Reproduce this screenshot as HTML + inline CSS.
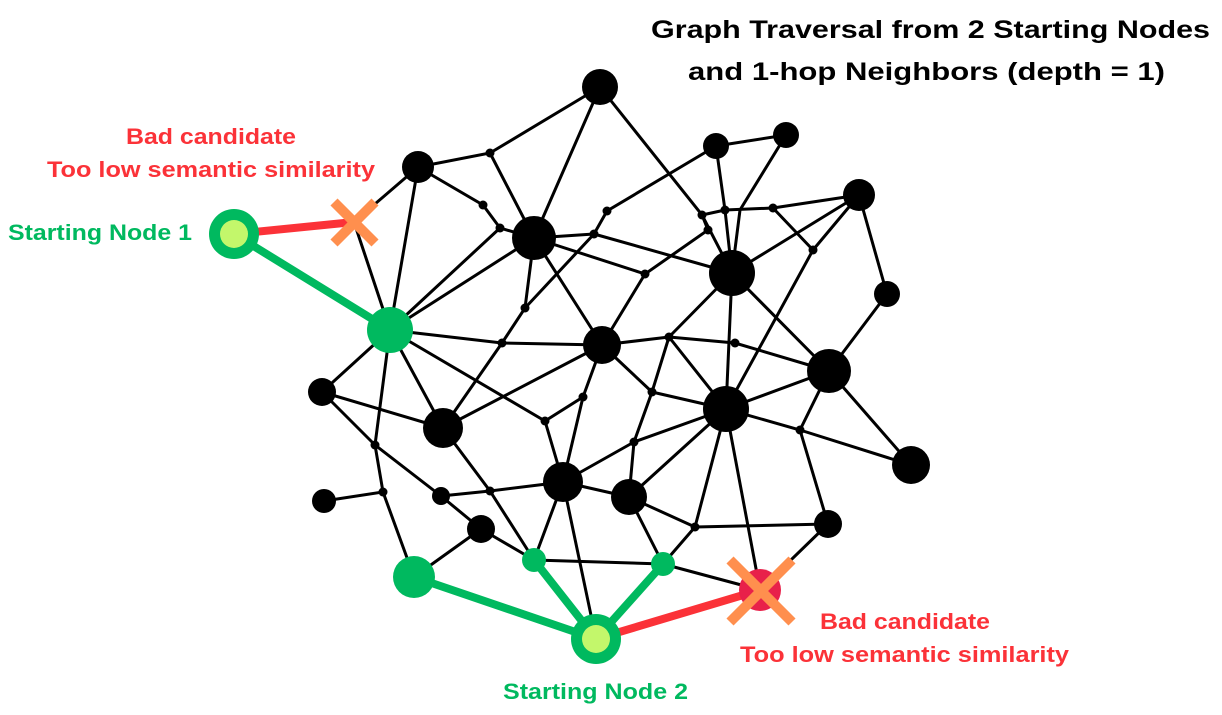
<!DOCTYPE html>
<html><head><meta charset="utf-8"><style>html,body{margin:0;padding:0;background:#fff}svg{display:block}</style></head>
<body>
<svg width="1222" height="715" viewBox="0 0 1222 715" xmlns="http://www.w3.org/2000/svg">
<g stroke="#000" stroke-width="3" fill="none" stroke-linecap="round">
<!-- top -->
<polyline points="600,87 490,153 418,167"/>
<line x1="490" y1="153" x2="534" y2="238"/>
<line x1="600" y1="87" x2="534" y2="238"/>
<polyline points="600,87 702,215 732,273"/>
<line x1="418" y1="167" x2="354" y2="222"/>
<line x1="354" y1="222" x2="390" y2="330"/>
<line x1="418" y1="167" x2="390" y2="330"/>
<polyline points="418,167 483,205 500,228 534,238"/>
<line x1="500" y1="228" x2="390" y2="330"/>
<line x1="534" y1="238" x2="390" y2="330"/>
<polyline points="716,146 607,211 594,234 525,308 502,343 443,428"/>
<line x1="534" y1="238" x2="594" y2="234"/>
<line x1="594" y1="234" x2="732" y2="273"/>
<line x1="534" y1="238" x2="645" y2="274"/>
<line x1="534" y1="238" x2="525" y2="308"/>
<line x1="534" y1="238" x2="602" y2="345"/>
<polyline points="390,330 502,343 602,345"/>
<!-- right top -->
<line x1="716" y1="146" x2="786" y2="135"/>
<polyline points="716,146 725,210 732,273"/>
<polyline points="786,135 740,210 732,273"/>
<polyline points="702,215 725,210 773,208 859,195"/>
<line x1="732" y1="273" x2="859" y2="195"/>
<polyline points="859,195 813,250 726,409"/>
<line x1="773" y1="208" x2="813" y2="250"/>
<line x1="732" y1="273" x2="829" y2="371"/>
<line x1="859" y1="195" x2="887" y2="294"/>
<line x1="887" y1="294" x2="829" y2="371"/>
<polyline points="702,215 708,230 645,274 602,345"/>
<line x1="732" y1="273" x2="726" y2="409"/>
<line x1="732" y1="273" x2="669" y2="337"/>
<polyline points="602,345 669,337 735,343 829,371"/>
<line x1="669" y1="337" x2="726" y2="409"/>
<polyline points="669,337 652,392 634,442 629,497"/>
<line x1="602" y1="345" x2="652" y2="392"/>
<line x1="652" y1="392" x2="726" y2="409"/>
<line x1="726" y1="409" x2="829" y2="371"/>
<polyline points="726,409 800,430 911,465"/>
<line x1="829" y1="371" x2="800" y2="430"/>
<line x1="829" y1="371" x2="911" y2="465"/>
<line x1="726" y1="409" x2="634" y2="442"/>
<line x1="634" y1="442" x2="563" y2="482"/>
<line x1="726" y1="409" x2="629" y2="497"/>
<line x1="726" y1="409" x2="695" y2="527"/>
<line x1="726" y1="409" x2="760" y2="590"/>
<line x1="800" y1="430" x2="828" y2="524"/>
<!-- left / bottom -->
<line x1="390" y1="330" x2="322" y2="392"/>
<line x1="390" y1="330" x2="443" y2="428"/>
<line x1="390" y1="330" x2="375" y2="445"/>
<polyline points="390,330 545,421 583,397 602,345"/>
<line x1="443" y1="428" x2="602" y2="345"/>
<line x1="322" y1="392" x2="443" y2="428"/>
<line x1="322" y1="392" x2="375" y2="445"/>
<polyline points="375,445 383,492 414,577"/>
<line x1="383" y1="492" x2="324" y2="501"/>
<polyline points="375,445 441,496 481,529"/>
<polyline points="441,496 490,491 563,482"/>
<polyline points="443,428 490,491 534,560"/>
<line x1="545" y1="421" x2="563" y2="482"/>
<line x1="583" y1="397" x2="563" y2="482"/>
<line x1="563" y1="482" x2="629" y2="497"/>
<line x1="563" y1="482" x2="534" y2="560"/>
<line x1="563" y1="482" x2="596" y2="639"/>
<line x1="629" y1="497" x2="695" y2="527"/>
<line x1="629" y1="497" x2="663" y2="564"/>
<line x1="695" y1="527" x2="663" y2="564"/>
<line x1="695" y1="527" x2="828" y2="524"/>
<line x1="828" y1="524" x2="760" y2="590"/>
<line x1="663" y1="564" x2="760" y2="590"/>
<line x1="534" y1="560" x2="663" y2="564"/>
<line x1="481" y1="529" x2="414" y2="577"/>
<line x1="481" y1="529" x2="534" y2="560"/>
</g>
<!-- thick colored edges -->
<g stroke-width="8" stroke-linecap="round">
<line x1="234" y1="234" x2="354" y2="222" stroke="#fb3238"/>
<line x1="596" y1="639" x2="760" y2="590" stroke="#fb3238"/>
<line x1="234" y1="234" x2="390" y2="330" stroke="#00b95f"/>
<line x1="596" y1="639" x2="414" y2="577" stroke="#00b95f"/>
<line x1="596" y1="639" x2="534" y2="560" stroke="#00b95f"/>
<line x1="596" y1="639" x2="663" y2="564" stroke="#00b95f"/>
</g>
<!-- black nodes -->
<g fill="#000">
<circle cx="600" cy="87" r="18"/><circle cx="418" cy="167" r="16"/><circle cx="534" cy="238" r="22"/>
<circle cx="602" cy="345" r="19"/><circle cx="732" cy="273" r="23"/><circle cx="726" cy="409" r="23"/>
<circle cx="829" cy="371" r="22"/><circle cx="859" cy="195" r="16"/><circle cx="716" cy="146" r="13"/>
<circle cx="786" cy="135" r="13"/><circle cx="887" cy="294" r="13"/><circle cx="911" cy="465" r="19"/>
<circle cx="443" cy="428" r="20"/><circle cx="322" cy="392" r="14"/><circle cx="324" cy="501" r="12"/>
<circle cx="563" cy="482" r="20"/><circle cx="629" cy="497" r="18"/><circle cx="481" cy="529" r="14"/>
<circle cx="828" cy="524" r="14"/><circle cx="441" cy="496" r="9"/>
<g>
<circle cx="490" cy="153" r="4.5"/><circle cx="483" cy="205" r="4.5"/><circle cx="500" cy="228" r="4.5"/>
<circle cx="607" cy="211" r="4.5"/><circle cx="594" cy="234" r="4.5"/><circle cx="525" cy="308" r="4.5"/>
<circle cx="502" cy="343" r="4.5"/><circle cx="702" cy="215" r="4.5"/><circle cx="708" cy="230" r="4.5"/>
<circle cx="725" cy="210" r="4.5"/><circle cx="773" cy="208" r="4.5"/><circle cx="813" cy="250" r="4.5"/>
<circle cx="645" cy="274" r="4.5"/><circle cx="669" cy="337" r="4.5"/><circle cx="735" cy="343" r="4.5"/>
<circle cx="652" cy="392" r="4.5"/><circle cx="800" cy="430" r="4.5"/><circle cx="634" cy="442" r="4.5"/>
<circle cx="375" cy="445" r="4.5"/><circle cx="383" cy="492" r="4.5"/><circle cx="490" cy="491" r="4.5"/>
<circle cx="545" cy="421" r="4.5"/><circle cx="583" cy="397" r="4.5"/><circle cx="695" cy="527" r="4.5"/>
</g>
</g>
<!-- green nodes -->
<g fill="#00b95f">
<circle cx="390" cy="330" r="23"/><circle cx="414" cy="577" r="21"/>
<circle cx="534" cy="560" r="12"/><circle cx="663" cy="564" r="12"/>
<circle cx="234" cy="234" r="25"/><circle cx="596" cy="639" r="25"/>
</g>
<circle cx="234" cy="234" r="14" fill="#c3f76b"/>
<circle cx="596" cy="639" r="14" fill="#c3f76b"/>
<!-- red node -->
<circle cx="760" cy="590" r="21" fill="#e8214a"/>
<!-- X marks -->
<g stroke="#ff8f4e" stroke-width="10" stroke-linecap="butt">
<line x1="730" y1="560" x2="792" y2="622"/><line x1="792" y1="560" x2="730" y2="622"/>
<line x1="334" y1="202" x2="375" y2="243"/><line x1="375" y1="202" x2="334" y2="243"/>
</g>
<!-- text -->
<g font-family="Liberation Sans, sans-serif" font-weight="bold">
<text x="651" y="38" font-size="25" fill="#000" textLength="559" lengthAdjust="spacingAndGlyphs">Graph Traversal from 2 Starting Nodes</text>
<text x="688" y="80" font-size="25" fill="#000" textLength="477" lengthAdjust="spacingAndGlyphs">and 1-hop Neighbors (depth = 1)</text>
<text x="126" y="144" font-size="22" fill="#fb3238" textLength="170" lengthAdjust="spacingAndGlyphs">Bad candidate</text>
<text x="47" y="177" font-size="22" fill="#fb3238" textLength="328" lengthAdjust="spacingAndGlyphs">Too low semantic similarity</text>
<text x="8" y="240" font-size="22" fill="#00b95f" textLength="184" lengthAdjust="spacingAndGlyphs">Starting Node 1</text>
<text x="820" y="629" font-size="22" fill="#fb3238" textLength="170" lengthAdjust="spacingAndGlyphs">Bad candidate</text>
<text x="740" y="662" font-size="22" fill="#fb3238" textLength="329" lengthAdjust="spacingAndGlyphs">Too low semantic similarity</text>
<text x="503" y="699" font-size="22" fill="#00b95f" textLength="185" lengthAdjust="spacingAndGlyphs">Starting Node 2</text>
</g>
</svg>
</body></html>
